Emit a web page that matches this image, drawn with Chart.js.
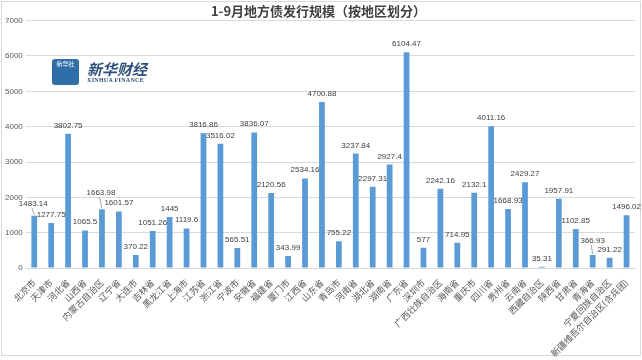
<!DOCTYPE html>
<html>
<head>
<meta charset="utf-8">
<script src="https://cdn.jsdelivr.net/npm/chart.js@4"></script>
<style>
  html, body { margin: 0; padding: 0; background: #fff; }
  #wrap { position: relative; width: 642px; height: 360px; }
  #frame { position: absolute; left: 1px; top: 1px; width: 640px; height: 355px; box-sizing: border-box; border: 1px solid #d9d9d9; }
  #c { position: absolute; left: 0; top: 0; }
  #logo { position: absolute; left: 52px; top: 59px; display: flex; align-items: center; }
  #logo .box { width: 27px; height: 26px; background: #2e6fa8; border-radius: 3px; color: #fff; font: 6px "Noto Sans CJK SC"; text-align: center; line-height: 10px; }
  #logo .txt { margin-left: 8px; color: #2e4f7a; }
  #logo .cn { font: italic bold 15px "Noto Sans CJK SC"; line-height: 16px; }
  #logo .en { font: bold 6px "Liberation Serif"; letter-spacing: 0.3px; }
</style>
</head>
<body>
<div id="wrap">
  <div id="frame"></div>
  <canvas id="c" width="642" height="360"></canvas>
  <div id="logo"><div class="box">新华社</div><div class="txt"><div class="cn">新华财经</div><div class="en">XINHUA FINANCE</div></div></div>
</div>
<script>
  const TITLE = "1-9月地方债发行规模（按地区划分）";
  const REGIONS = ["北京市","天津市","河北省","山西省","内蒙古自治区","辽宁省","大连市","吉林省","黑龙江省","上海市",
    "江苏省","浙江省","宁波市","安徽省","福建省","厦门市","江西省","山东省","青岛市","河南省",
    "湖北省","湖南省","广东省","深圳市","广西壮族自治区","海南省","重庆市","四川省","贵州省","云南省",
    "西藏自治区","陕西省","甘肃省","青海省","宁夏回族自治区","新疆维吾尔自治区(含兵团)"];
  const AMOUNTS = [1483.14,1277.75,3802.75,1065.5,1663.98,1601.57,370.22,1051.26,1445,1119.6,
    3816.86,3516.02,565.51,3836.07,2120.56,343.99,2534.16,4700.88,755.22,3237.84,
    2297.31,2927.4,6104.47,577,2242.16,714.95,2132.1,4011.16,1668.93,2429.27,
    35.31,1957.91,1102.85,366.93,291.22,1496.02];
  const LABELS = ["1483.14","1277.75","3802.75","1065.5","1663.98","1601.57","370.22","1051.26","1445","1119.6",
    "3816.86","3516.02","565.51","3836.07","2120.56","343.99","2534.16","4700.88","755.22","3237.84",
    "2297.31","2927.4","6104.47","577","2242.16","714.95","2132.1","4011.16","1668.93","2429.27",
    "35.31","1957.91","1102.85","366.93","291.22","1496.02"];

  // labels that excel pushed away from the bar, with a leader line
  const LIFTED = { 0: [-1, 4], 4: [-1, 8], 33: [0, 6] };

  const valueLabels = {
    id: "valueLabels",
    afterDatasetsDraw(chart){
      const ctx = chart.ctx;
      const meta = chart.getDatasetMeta(0);
      ctx.save();
      ctx.font = "8px 'Liberation Sans'";
      ctx.fillStyle = "#404040";
      ctx.textAlign = "center";
      ctx.textBaseline = "alphabetic";
      meta.data.forEach((bar, i) => {
        const off = LIFTED[i] || [0, 0];
        const y = bar.y - 6 - off[1];
        ctx.fillText(LABELS[i], bar.x + off[0], y);
        if (off[1]) {
          ctx.strokeStyle = "#a6a6a6";
          ctx.lineWidth = 1;
          ctx.beginPath();
          ctx.moveTo(bar.x + off[0] - 1.5, y + 2);
          ctx.lineTo(bar.x, bar.y - 1);
          ctx.stroke();
        }
      });
      ctx.restore();
    }
  };

  new Chart(document.getElementById("c"), {
    type: "bar",
    data: {
      labels: REGIONS,
      datasets: [{
        data: AMOUNTS,
        backgroundColor: "#5b9bd5",
        barPercentage: 1,
        categoryPercentage: 0.34
      }]
    },
    options: {
      responsive: false,
      animation: false,
      layout: { padding: { left: 2, right: 7, top: 0, bottom: 0 } },
      plugins: {
        legend: { display: false },
        tooltip: { enabled: false },
        title: {
          display: true,
          text: TITLE,
          color: "#404040",
          font: { family: "Noto Sans CJK SC", size: 13, weight: "bold" },
          padding: { top: 3, bottom: 2 }
        }
      },
      scales: {
        y: {
          min: 0, max: 7000,
          ticks: { stepSize: 1000, color: "#595959", font: { family: "Liberation Sans", size: 8 }, padding: 3,
                   callback: v => String(v) },
          grid: { color: "#d9d9d9", drawTicks: false },
          border: { display: false }
        },
        x: {
          ticks: { autoSkip: false, maxRotation: 45, minRotation: 45, color: "#595959",
                   font: { family: "Noto Sans CJK SC", size: 9 }, padding: 1 },
          grid: { display: false },
          border: { color: "#d9d9d9" }
        }
      }
    },
    plugins: [valueLabels]
  });
</script>
</body>
</html>
